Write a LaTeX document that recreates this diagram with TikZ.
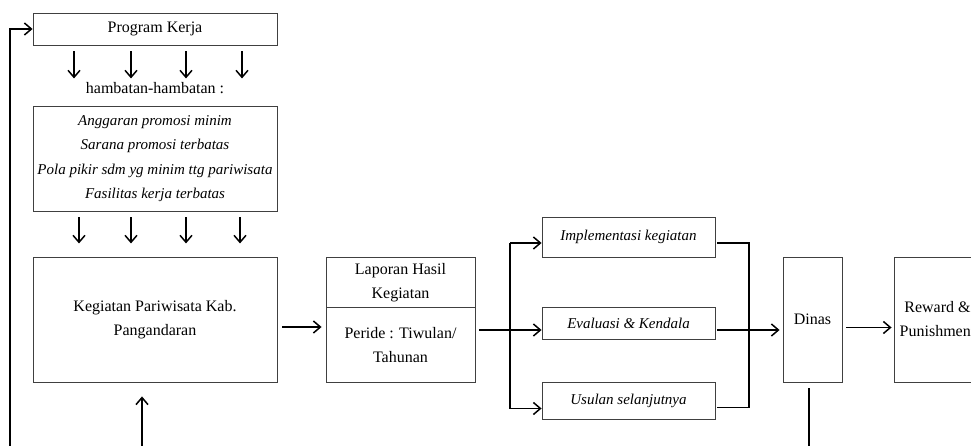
\documentclass[tikz,border=0pt]{standalone}
\usepackage{fontspec}
\setmainfont{Liberation Serif}
\usetikzlibrary{arrows.meta}
\begin{document}
\begin{tikzpicture}[x=1pt,y=-1pt,
  box/.style={draw=black!75, line width=0.9pt, inner sep=0pt, align=center,
    font=\fontsize{16}{24}\selectfont},
  itbox/.style={box, font=\fontsize{15}{24.5}\selectfont\itshape},
  ln/.style={line width=1.6pt, black},
  arr/.style={ln, -{Straight Barb[length=7pt,width=12pt,line width=1.5pt]}}]
\useasboundingbox (0,0) rectangle (971,446);
\clip (0,0) rectangle (971,446);
% boxes
\node[box, minimum width=244, minimum height=32] (pk) at (155,29) {Program Kerja};
\node[font=\fontsize{16}{18}\selectfont, inner sep=0pt] (hh) at (155,88) {hambatan-hambatan :};
\node[itbox, minimum width=244, minimum height=105] (hb) at (155,158.5)
  {Anggaran promosi minim\\Sarana promosi terbatas\\Pola pikir sdm yg minim ttg pariwisata\\Fasilitas kerja terbatas};
\node[box, minimum width=244, minimum height=125] (keg) at (155,319.5) {Kegiatan Pariwisata Kab.\\Pangandaran};
\node[box, minimum width=149, minimum height=50.5] (lt) at (400.5,282.25) {Laporan Hasil\\Kegiatan};
\node[box, minimum width=149, minimum height=74.5] (lb) at (400.5,344.75) {Peride : Tiwulan/\\Tahunan};
\node[itbox, minimum width=173, minimum height=40] (impl) at (628.5,237) {Implementasi kegiatan};
\node[itbox, minimum width=173, minimum height=32] (eval) at (628.5,323) {Evaluasi \& Kendala};
\node[itbox, minimum width=173, minimum height=37] (usul) at (628.5,400.5) {Usulan selanjutnya};
\node[box, minimum width=59, minimum height=125] (dinas) at (812.5,319.5) {Dinas};
\node[box, minimum width=87, minimum height=125] (rew) at (937.5,319.5) {Reward \&\\Punishment};
% feedback loop
\coordinate (fb) at (10,446);
\draw[arr] (fb) |- (pk.west);
% arrows Program Kerja -> hambatan
\foreach \dx in {-81,-24,31,87}
  \draw[arr] ([shift={(\dx,6)}]pk.south) -- ++(0,27);
\foreach \dx in {-76,-24,31,85}
  \draw[arr] ([shift={(\dx,6)}]hb.south) -- ++(0,26);
% up arrow into Kegiatan
\coordinate (ub) at (142,446);
\draw[arr] (ub) -- ([yshift=-14pt]ub |- keg.south);
% Kegiatan -> Laporan
\coordinate (a1) at ([shift={(5,7.5)}]keg.east);
\draw[arr] (a1) -- ([xshift=-4pt]a1 -| lb.west);
% Laporan -> branch
\coordinate (br) at (510,330);
\draw[ln] ([xshift=4pt]lb.east |- br) -- (br);
\draw[arr] ([yshift=-6pt]br |- impl.west) -- ([yshift=-6pt]impl.west);
\draw[ln] ([yshift=-6pt]br |- impl.west) -- ([yshift=-8pt]br |- usul.west);
\draw[arr] ([yshift=-8pt]br |- usul.west) -- ([yshift=-8pt]usul.west);
\draw[arr] (br) -- (br -| eval.west);
% merge -> Dinas
\coordinate (mr) at (749,330);
\draw[ln] ([shift={(2,6)}]impl.east) -| (mr);
\draw[ln] ([shift={(2,7)}]usul.east) -| (mr);
\draw[arr] ([xshift=2pt]eval.east |- mr) -- ([xshift=-3pt]mr -| dinas.west);
% Dinas -> Reward
\draw[arr] ([shift={(4,8)}]dinas.east) -- ([shift={(-2,8)}]rew.west);
% Dinas down
\coordinate (db) at (809,446);
\draw[ln] ([shift={(-3.5,6)}]dinas.south) -- (db);
\end{tikzpicture}
\end{document}
